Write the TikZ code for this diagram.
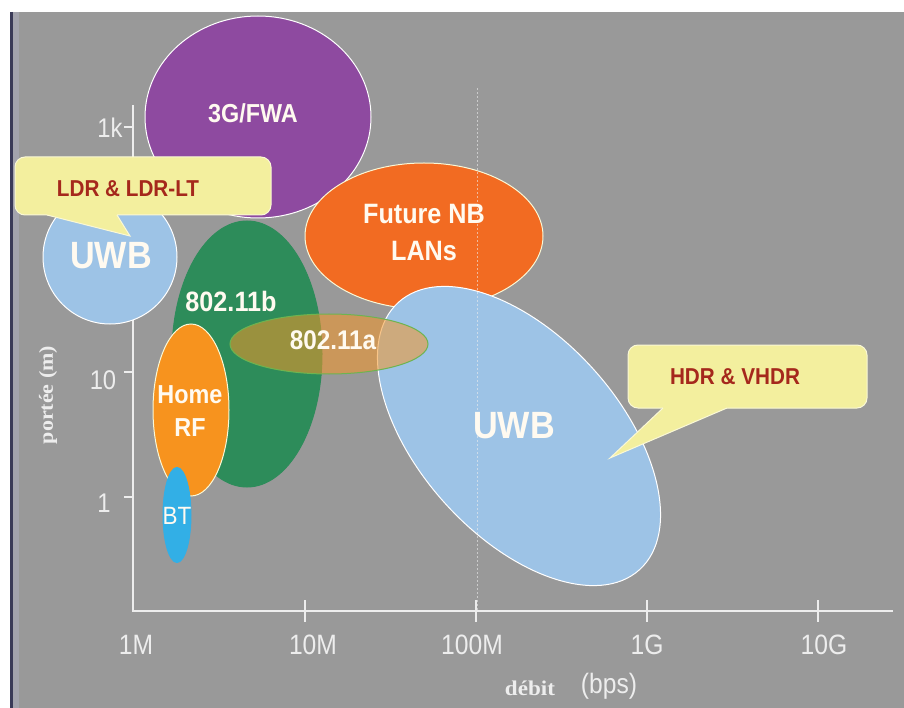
\documentclass[tikz,border=0pt]{standalone}
\usepackage{fontspec}
\setmainfont{Liberation Sans}
\newfontfamily\labfont[FakeStretch=0.9]{Liberation Sans}
\newfontfamily\tickfont[FakeStretch=0.88]{Liberation Sans}
\newfontfamily\axserif[FakeStretch=1.1]{Liberation Serif}
\usetikzlibrary{shapes.geometric,calc}
\definecolor{bggray}{HTML}{999999}
\definecolor{edgestrip}{HTML}{A3A3AD}
\definecolor{darkedge}{HTML}{3A3A58}
\definecolor{axiscol}{HTML}{EDEDED}
\definecolor{purp}{HTML}{8E4AA0}
\definecolor{nborange}{HTML}{F26B22}
\definecolor{grn}{HTML}{2D8C5A}
\definecolor{ltblue}{HTML}{9DC3E6}
\definecolor{homeor}{HTML}{F7931E}
\definecolor{btblue}{HTML}{32AFE6}
\definecolor{aorange}{HTML}{F59628}
\definecolor{agreen}{HTML}{6DB450}
\definecolor{callfill}{HTML}{F3EF9E}
\definecolor{callline}{HTML}{FAF8D6}
\definecolor{calltext}{HTML}{A5281C}
\definecolor{lblwhite}{HTML}{FFFAF0}
\begin{document}
\begin{tikzpicture}[x=1pt,y=-1pt,
  blob/.style={ellipse, draw=#1, line width=1pt, inner sep=0pt},
  blob/.default=white,
  lbl/.style={text=lblwhite, inner sep=0pt, align=center, font=\labfont\bfseries\fontsize{#1}{#1}\selectfont},
  tick/.style={text=axiscol, inner sep=0pt, font=\tickfont\fontsize{#1}{#1}\selectfont},
  axisline/.style={draw=axiscol, line width=1.8pt},
  callbox/.style={fill=callfill, draw=callline, line width=1pt, rounded corners=10pt, inner sep=0pt},
  calltxt/.style={text=calltext, inner sep=0pt, font=\labfont\bfseries\fontsize{23}{23}\selectfont}]
\useasboundingbox (0,0) rectangle (904,708);
\fill[white] (0,0) rectangle (904,708);
\fill[bggray] (11,12) rectangle (904,708);
\fill[edgestrip] (13,12) rectangle (19,708);
\draw[darkedge, line width=2.5pt] (11.5,12) -- (11.5,708);
% axes
\draw[axisline] (133,105) -- (133,611) -- (893,611);
\foreach \x in {305,476,647,818} \draw[axisline] (\x,600) -- (\x,622);
\foreach \y in {127,372,497} \draw[axisline] (124,\y) -- (133,\y);
% tick labels
\node[tick=27] (ym1k) at (110,128) {1k};
\node[tick=27] (ym10) at (103,380) {10};
\node[tick=27] (ym1) at (104,503) {1};
\node[tick=28] (xm1) at (136,645) {1M};
\node[tick=28] (xm10) at (313,645) {10M};
\node[tick=28] (xm100) at (472,645) {100M};
\node[tick=28] (xm1g) at (647,645) {1G};
\node[tick=28] (xm10g) at (824,645) {10G};
\node[text=axiscol, inner sep=0pt, font=\axserif\bfseries\fontsize{21}{21}\selectfont] (xlab) at (530,688) {débit};
\node[tick=28] (xunit) at (609,686) {(bps)};
\node[text=axiscol, inner sep=0pt, rotate=90, font=\axserif\bfseries\fontsize{20}{20}\selectfont] (ylab) at (48,395) {portée (m)};
% blobs
\node[blob, fill=purp, minimum width=226pt, minimum height=202pt] (g3) at (258,117) {};
\node[blob=callline, fill=nborange, minimum width=238pt, minimum height=146pt] (nb) at (424,236) {};
\node[blob=grn, fill=grn, minimum width=150pt, minimum height=266pt] (b11) at (247,354) {};
\node[blob, fill=ltblue, minimum width=360pt, minimum height=200pt, rotate=-48] (uwbh) at (519,436) {};
\node[blob=agreen, fill=aorange, fill opacity=0.55, minimum width=198pt, minimum height=60pt] (a11) at (329,344) {};
\node[blob=callline, fill=homeor, minimum width=76pt, minimum height=172pt] (hrf) at (191,410) {};
\node[blob=btblue, fill=btblue, minimum width=28pt, minimum height=95pt] (bt) at (177,515) {};
\node[blob, fill=ltblue, minimum width=134pt, minimum height=134pt] (uwbl) at (110,257) {};
% dotted 100M line
\draw[axiscol, opacity=0.6, line width=0.9pt, dash pattern=on 2pt off 2pt] (477,88) -- (477,611);
% labels
\node[lbl=26] (t3g) at (253,113) {3G/FWA};
\node[lbl=28, font=\labfont\bfseries\fontsize{28}{37}\selectfont] (tnb) at (424,233) {Future NB\\LANs};
\node[lbl=28] (t11b) at (231,301) {802.11b};
\node[lbl=27] (t11a) at (333,340) {802.11a};
\node[lbl=26, font=\labfont\bfseries\fontsize{26}{33}\selectfont] (thrf) at (190,411) {Home\\RF};
\node[text=lblwhite, inner sep=0pt, font=\labfont\fontsize{25}{25}\selectfont] (tbt) at (177,516) {BT};
\node[lbl=38] (tuwbh) at (514,426) {UWB};
\node[lbl=38] (tuwbl) at (111,256) {UWB};
% callout LDR
\node[callbox, minimum width=256pt, minimum height=58pt] (ldr) at (143,186) {};
\coordinate (ldrtip) at (130,236);
\coordinate (ldrb1) at (47,215);
\coordinate (ldrb2) at (117,215);
\fill[callfill] ($(ldrb1)+(0,-4)$) -- (ldrb1) -- (ldrtip) -- (ldrb2) -- ($(ldrb2)+(0,-4)$) -- cycle;
\draw[callline, line width=1pt] (ldrb1) -- (ldrtip) -- (ldrb2);
\node[calltxt] (ldrt) at (128,189) {LDR \& LDR-LT};
% callout HDR
\node[callbox, minimum width=239pt, minimum height=63pt] (hdr) at (747.5,376.5) {};
\coordinate (hdrtip) at (610,458);
\coordinate (hdrb1) at (663,408);
\coordinate (hdrb2) at (727,408);
\fill[callfill] ($(hdrb1)+(0,-4)$) -- (hdrb1) -- (hdrtip) -- (hdrb2) -- ($(hdrb2)+(0,-4)$) -- cycle;
\draw[callline, line width=1pt] (hdrb1) -- (hdrtip) -- (hdrb2);
\node[calltxt] (hdrt) at (735,377) {HDR \& VHDR};
\end{tikzpicture}
\end{document}
